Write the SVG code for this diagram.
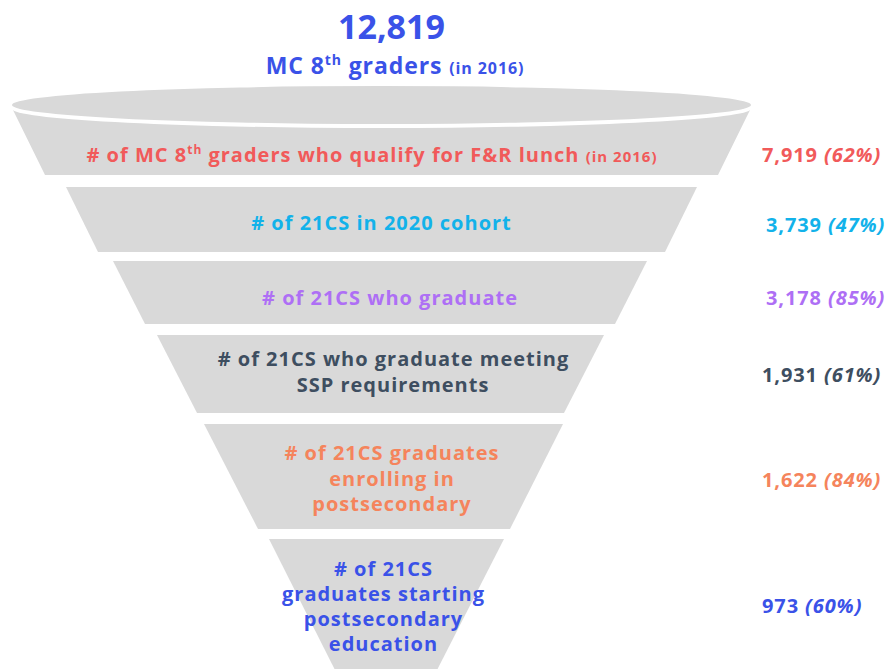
<svg xmlns="http://www.w3.org/2000/svg" width="889" height="669" viewBox="0 0 889 669">
<style>
.seg{fill:#d9d9d9;}
text{font-family:"Open Sans","Liberation Sans",sans-serif;font-weight:700;}
.lbl{font-size:20px;text-anchor:middle;letter-spacing:1px;}
.val{font-size:20px;letter-spacing:0.9px;}
.pct{font-style:italic;}
.red{fill:#f15a5a;}
.cyan{fill:#12b2ea;}
.purple{fill:#ae6ff5;}
.slate{fill:#3e4e60;}
.orange{fill:#f5845c;}
.blue{fill:#3a52e8;}
</style>
<rect width="889" height="669" fill="#ffffff"/>
<g id="title">
<text x="391.5" y="39" font-size="34" text-anchor="middle" class="blue">12,819</text>
<text x="395" y="74" font-size="23" text-anchor="middle" letter-spacing="0.9" class="blue">MC 8<tspan font-size="14" dy="-9">th</tspan><tspan dy="9"> graders </tspan><tspan font-size="16">(in 2016)</tspan></text>
</g>
<g id="rim">
<ellipse cx="381.5" cy="105" rx="369.5" ry="19" class="seg"/>
</g>
<g id="stage1">
<path class="seg" d="M13,110 A369 19 0 0 0 750,110 L718,175 L45,175 Z"/>
<text x="372" y="162" class="lbl red"># of MC 8<tspan font-size="12" dy="-8">th</tspan><tspan dy="8"> graders who qualify for F&amp;R lunch </tspan><tspan font-size="15">(in 2016)</tspan></text>
<text x="762" y="162" class="val red">7,919 <tspan class="pct">(62%)</tspan></text>
</g>
<g id="stage2">
<path class="seg" d="M66,187 L697,187 L665,252 L98,252 Z"/>
<text x="381.5" y="230" class="lbl cyan"># of 21CS in 2020 cohort</text>
<text x="766" y="232" class="val cyan">3,739 <tspan class="pct">(47%)</tspan></text>
</g>
<g id="stage3">
<path class="seg" d="M113,261 L647,261 L615,324 L145,324 Z"/>
<text x="390" y="305" class="lbl purple"># of 21CS who graduate</text>
<text x="766" y="305" class="val purple">3,178 <tspan class="pct">(85%)</tspan></text>
</g>
<g id="stage4">
<path class="seg" d="M157,335 L604,335 L564,413 L197,413 Z"/>
<text x="393.5" y="366" class="lbl slate"># of 21CS who graduate meeting</text>
<text x="393" y="392" class="lbl slate">SSP requirements</text>
<text x="762" y="382" class="val slate">1,931 <tspan class="pct">(61%)</tspan></text>
</g>
<g id="stage5">
<path class="seg" d="M204,424 L563,424 L510,529 L258,529 Z"/>
<text x="392" y="460" class="lbl orange"># of 21CS graduates</text>
<text x="392" y="486" class="lbl orange">enrolling in</text>
<text x="392" y="511" class="lbl orange">postsecondary</text>
<text x="762" y="487" class="val orange">1,622 <tspan class="pct">(84%)</tspan></text>
</g>
<g id="stage6">
<path class="seg" d="M269,539 L504,539 L436,672 L336,672 Z"/>
<text x="383.5" y="576" class="lbl blue"># of 21CS</text>
<text x="383.5" y="601" class="lbl blue">graduates starting</text>
<text x="383.5" y="626" class="lbl blue">postsecondary</text>
<text x="383.5" y="651" class="lbl blue">education</text>
<text x="762" y="613" class="val blue">973 <tspan class="pct">(60%)</tspan></text>
</g>
</svg>
